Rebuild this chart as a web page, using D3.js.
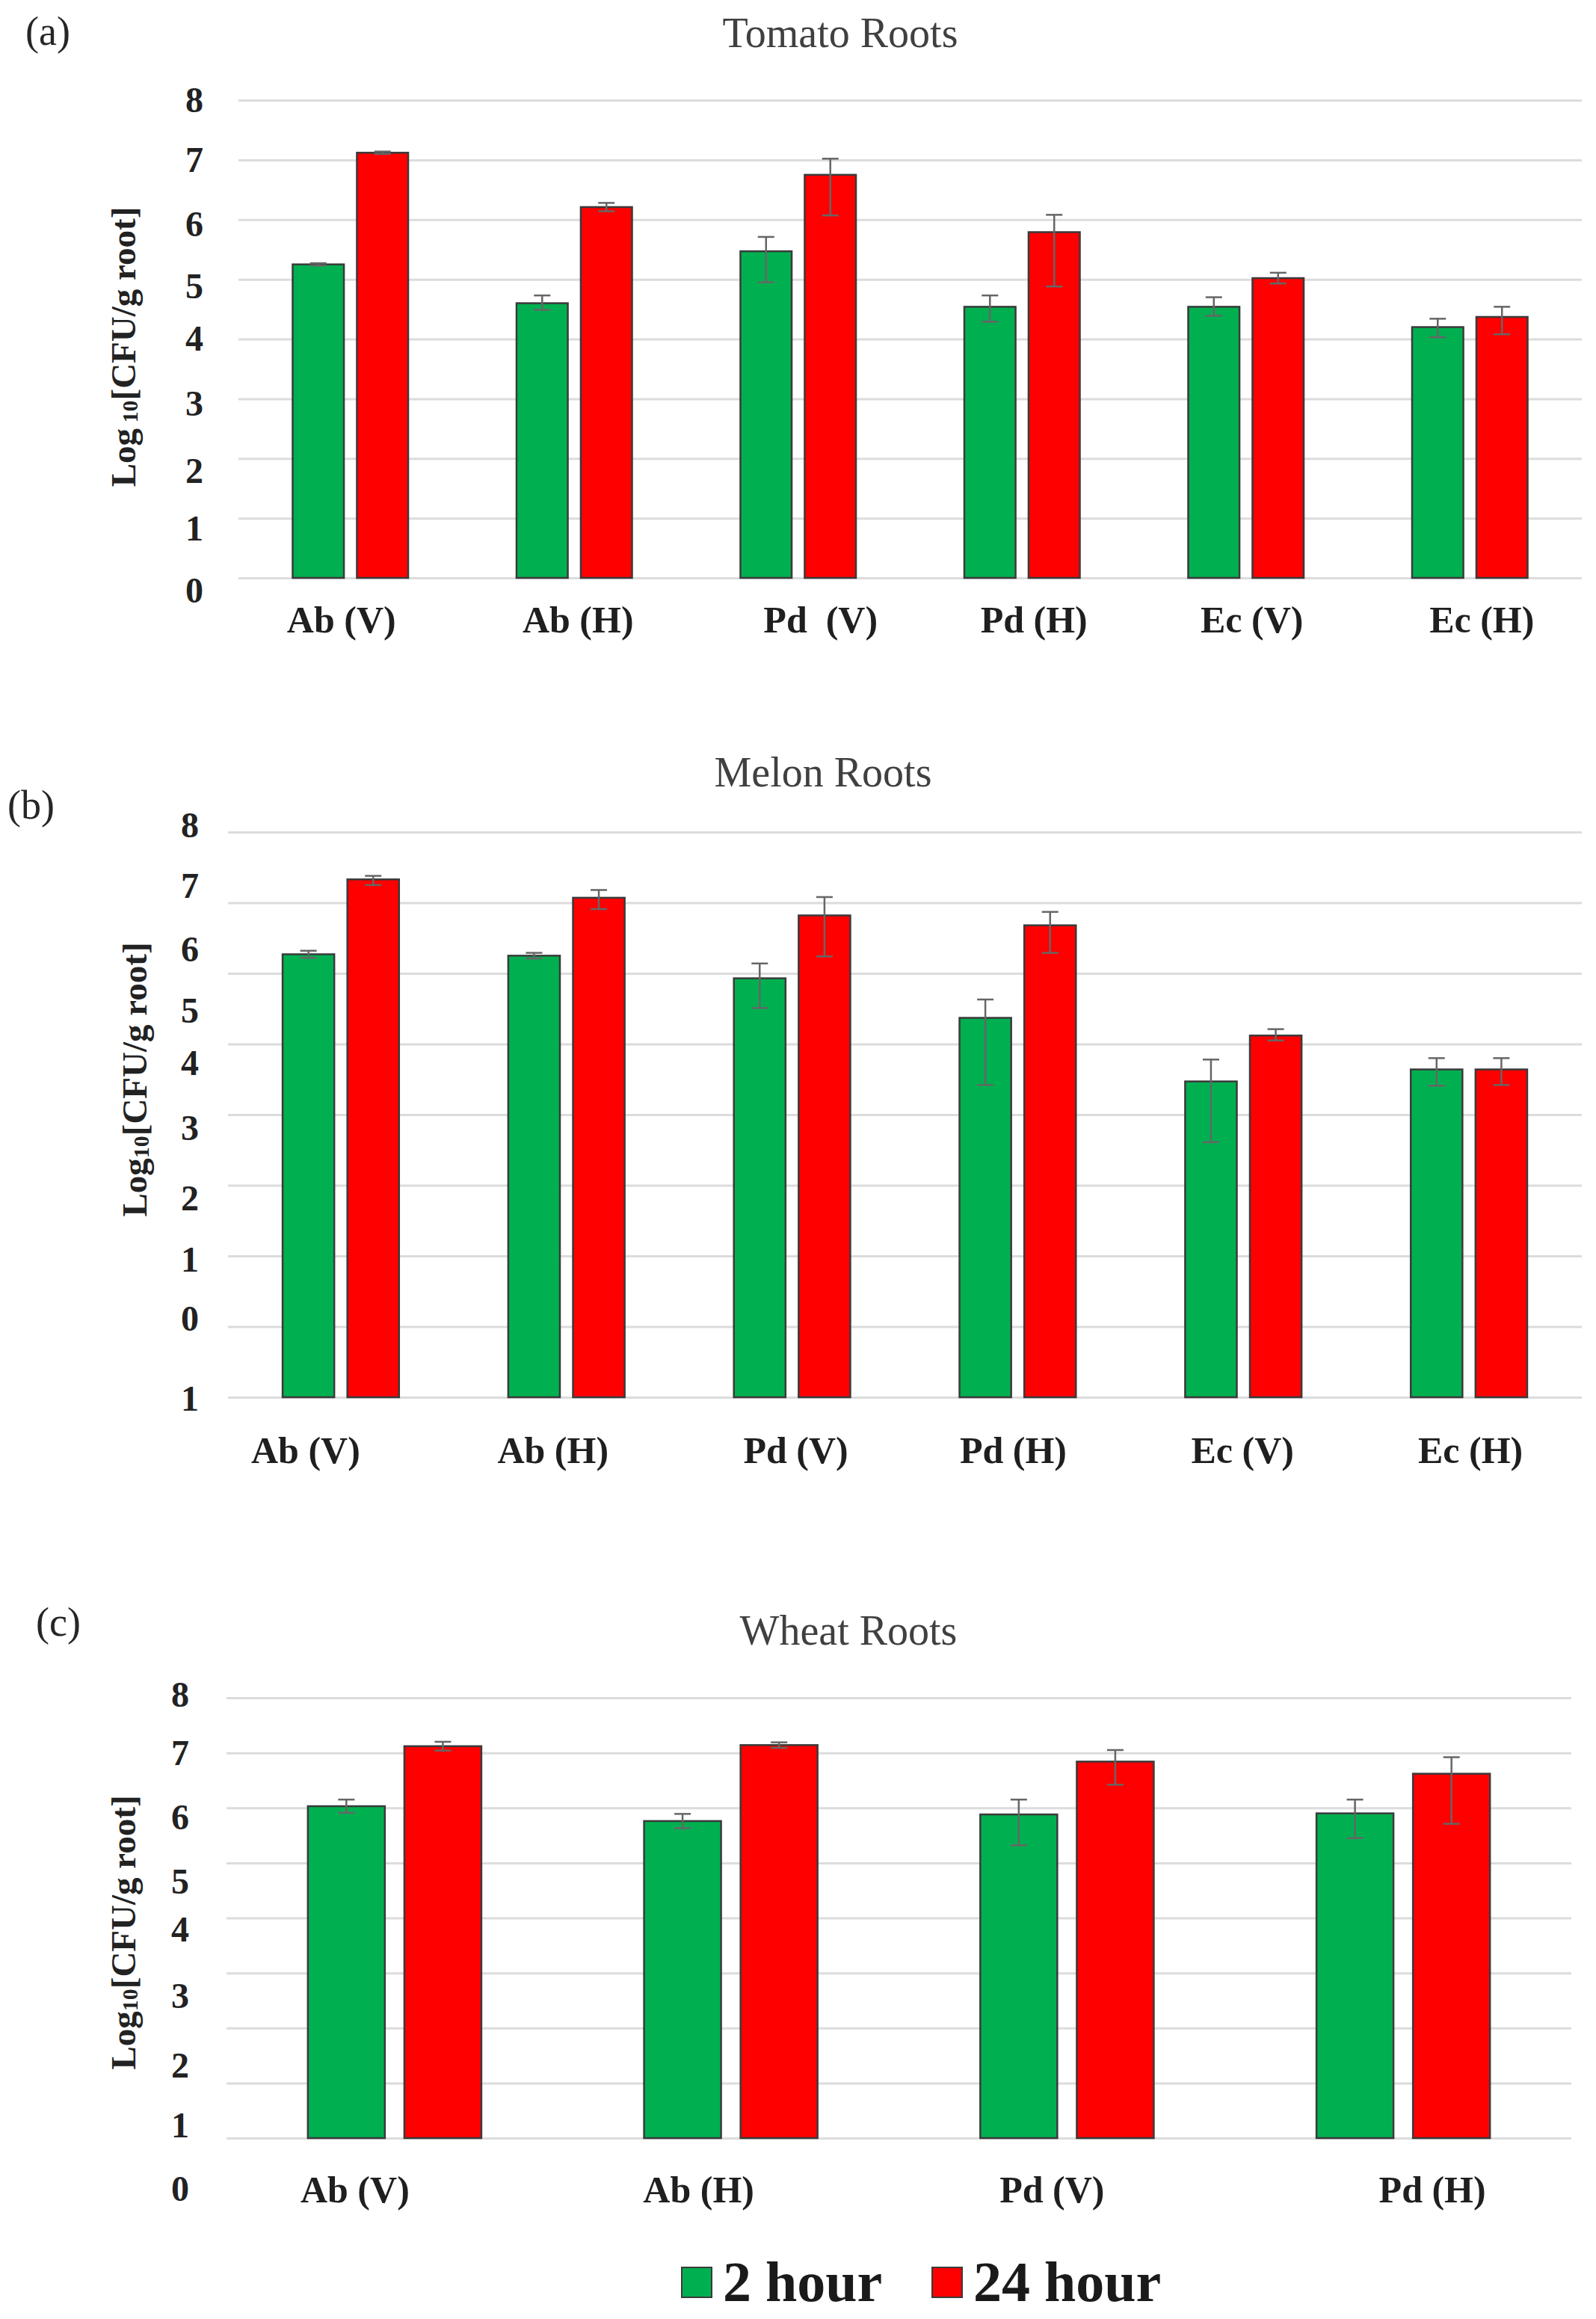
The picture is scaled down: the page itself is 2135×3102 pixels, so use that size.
<!DOCTYPE html>
<html>
<head>
<meta charset="utf-8">
<script src="https://cdn.jsdelivr.net/npm/d3@7"></script>
<style>
  body { margin: 0; background: #fff; }
  svg { display: block; font-family: 'Liberation Serif', 'Times New Roman', serif; }
</style>
</head>
<body>
<svg id="canvas" width="2135" height="3102"></svg>
<script>
// series
let series = ['2 hour', '24 hour'];
let seriesColors = ['#00b050', '#ff0000'];

// (a) tomato
let tomatoCategories = ['Ab (V)', 'Ab (H)', 'Pd\u00a0\u00a0(V)', 'Pd (H)', 'Ec (V)', 'Ec (H)'];
let tomato2h = [5.25, 4.60, 5.47, 4.54, 4.54, 4.20];
let tomato24h = [7.12, 6.21, 6.75, 5.79, 5.02, 4.37];
// [up, down]
let tomato2hErr = [[0.02, 0.02], [0.13, 0.11], [0.24, 0.52], [0.19, 0.25], [0.16, 0.15], [0.14, 0.17]];
let tomato24hErr = [[0.02, 0.02], [0.07, 0.07], [0.27, 0.68], [0.29, 0.91], [0.09, 0.09], [0.17, 0.29]];
let tomatoTickValues = [8, 7.0, 5.92, 4.88, 4.0, 2.92, 1.79, 0.83, -0.22];
let tomatoTickLabels = ['8', '7', '6', '5', '4', '3', '2', '1', '0'];

// (b) melon
let melonCategories = ['Ab (V)', 'Ab (H)', 'Pd (V)', 'Pd (H)', 'Ec (V)', 'Ec (H)'];
let melon2h = [6.27, 6.25, 5.93, 5.37, 4.47, 4.64];
let melon24h = [7.33, 7.07, 6.82, 6.68, 5.12, 4.64];
let melon2hErr = [[0.05, 0.05], [0.04, 0.04], [0.21, 0.42], [0.26, 0.95], [0.31, 0.86], [0.16, 0.23]];
let melon24hErr = [[0.05, 0.08], [0.11, 0.16], [0.26, 0.58], [0.19, 0.39], [0.09, 0.07], [0.16, 0.22]];
let melonTickValues = [8.09, 7.24, 6.34, 5.47, 4.73, 3.81, 2.81, 1.95, 1.11, -0.02];
let melonTickLabels = ['8', '7', '6', '5', '4', '3', '2', '1', '0', '1'];

// (c) wheat
let wheatCategories = ['Ab (V)', 'Ab (H)', 'Pd (V)', 'Pd (H)'];
let wheat2h = [6.03, 5.76, 5.88, 5.90];
let wheat24h = [7.12, 7.14, 6.84, 6.62];
let wheat2hErr = [[0.12, 0.12], [0.13, 0.13], [0.27, 0.56], [0.25, 0.45]];
let wheat24hErr = [[0.08, 0.08], [0.05, 0.05], [0.21, 0.42], [0.30, 0.91]];
let wheatTickValues = [8.05, 6.99, 5.82, 4.66, 3.79, 2.58, 1.32, 0.23, -0.92];
let wheatTickLabels = ['8', '7', '6', '5', '4', '3', '2', '1', '0'];

let gridValues = [0, 1, 2, 3, 4, 5, 6, 7, 8];

let canvas = d3.select('#canvas');

// layout of the three pasted panels
let panels = [
  {
    letter: '(a)', title: 'Tomato Roots', sub: '\u00a010',
    categories: tomatoCategories, values: [tomato2h, tomato24h], errs: [tomato2hErr, tomato24hErr],
    tickValues: tomatoTickValues, tickLabels: tomatoTickLabels,
    x0: 319, x1: 2116, yTop: 134, yBase: 773,
    titleX: 1124, titleY: 63, letterX: 34, letterY: 60,
    tickX: 272, yTitleX: 165, yTitleY: 464, catY: 846,
    catDx: [-12, 5, 30, 16, 8, 16]
  },
  {
    letter: '(b)', title: 'Melon Roots', sub: '10',
    categories: melonCategories, values: [melon2h, melon24h], errs: [melon2hErr, melon24hErr],
    tickValues: melonTickValues, tickLabels: melonTickLabels,
    x0: 305, x1: 2116, yTop: 1113, yBase: 1869,
    titleX: 1101, titleY: 1052, letterX: 10, letterY: 1095,
    tickX: 266, yTitleX: 180, yTitleY: 1444, catY: 1957,
    catDx: [-47, -18, 5, -6, -1, 2]
  },
  {
    letter: '(c)', title: 'Wheat Roots', sub: '10',
    categories: wheatCategories, values: [wheat2h, wheat24h], errs: [wheat2hErr, wheat24hErr],
    tickValues: wheatTickValues, tickLabels: wheatTickLabels,
    x0: 303, x1: 2102, yTop: 2271, yBase: 2860,
    titleX: 1135, titleY: 2200, letterX: 48, letterY: 2188,
    tickX: 253, yTitleX: 165, yTitleY: 2585, catY: 2946,
    catDx: [-53, -43, -20, 39]
  }
];

let drawPanel = (p) => {
  let g = canvas.append('g');

  let x = d3.scaleBand().domain(p.categories).range([p.x0, p.x1]).padding(0);
  let y = d3.scaleLinear().domain([0, 8]).range([p.yBase, p.yTop]);

  // gridlines
  g.append('g')
    .attr('transform', 'translate(' + p.x0 + ',0)')
    .call(d3.axisLeft(y).tickValues(gridValues).tickSize(-(p.x1 - p.x0)).tickFormat(''))
    .call((a) => a.select('.domain').remove())
    .selectAll('line')
    .attr('stroke', '#dcdcdc')
    .attr('stroke-width', 3);

  // tick labels (as placed in the figure)
  let tickAxis = g.append('g')
    .attr('transform', 'translate(' + p.tickX + ',0)')
    .call(d3.axisLeft(y).tickValues(p.tickValues).tickSize(0).tickPadding(0)
      .tickFormat((d, i) => p.tickLabels[i]));
  tickAxis.select('.domain').remove();
  tickAxis.selectAll('text')
    .attr('font-family', "'Liberation Serif', serif")
    .attr('font-size', 48)
    .attr('font-weight', 'bold')
    .attr('fill', '#222');

  let bw = x.bandwidth();
  let barW = bw * 0.229;
  let gap = bw * 0.058;

  series.forEach((s, si) => {
    let data = p.categories.map((c, i) => ({ cat: c, v: p.values[si][i], up: p.errs[si][i][0], dn: p.errs[si][i][1] }));
    let bx = (d) => x(d.cat) + bw / 2 + (si === 0 ? -gap / 2 - barW : gap / 2);

    g.selectAll('.bar' + si)
      .data(data)
      .enter()
      .append('rect')
      .attr('x', bx)
      .attr('y', (d) => y(d.v))
      .attr('width', barW)
      .attr('height', (d) => y(0) - y(d.v))
      .attr('fill', seriesColors[si])
      .attr('stroke', '#3a3a3a')
      .attr('stroke-width', 2.5);

    let eb = g.selectAll('.err' + si)
      .data(data)
      .enter()
      .append('g')
      .attr('stroke', '#666')
      .attr('stroke-width', 2.5);
    let cx = (d) => bx(d) + barW / 2;
    eb.append('line')
      .attr('x1', cx).attr('x2', cx)
      .attr('y1', (d) => y(d.v + d.up)).attr('y2', (d) => y(d.v - d.dn));
    eb.append('line')
      .attr('x1', (d) => cx(d) - 11).attr('x2', (d) => cx(d) + 11)
      .attr('y1', (d) => y(d.v + d.up)).attr('y2', (d) => y(d.v + d.up));
    eb.append('line')
      .attr('x1', (d) => cx(d) - 11).attr('x2', (d) => cx(d) + 11)
      .attr('y1', (d) => y(d.v - d.dn)).attr('y2', (d) => y(d.v - d.dn));
  });

  // category labels
  g.selectAll('.cat')
    .data(p.categories)
    .enter()
    .append('text')
    .attr('x', (c, i) => x(c) + bw / 2 + p.catDx[i])
    .attr('y', p.catY)
    .attr('text-anchor', 'middle')
    .attr('font-size', 50)
    .attr('font-weight', 'bold')
    .attr('fill', '#1f1f1f')
    .text((c) => c);

  // title and letter
  g.append('text')
    .attr('x', p.titleX).attr('y', p.titleY)
    .attr('text-anchor', 'middle')
    .attr('font-size', 56)
    .attr('fill', '#404040')
    .text(p.title);
  g.append('text')
    .attr('x', p.letterX).attr('y', p.letterY)
    .attr('font-size', 54)
    .attr('fill', '#262626')
    .text(p.letter);

  // y axis title
  let yt = g.append('text')
    .attr('transform', 'translate(' + p.yTitleX + ',' + p.yTitleY + ') rotate(-90)')
    .attr('text-anchor', 'middle')
    .attr('dominant-baseline', 'central')
    .attr('font-size', 47)
    .attr('font-weight', 'bold')
    .attr('fill', '#222');
  yt.append('tspan').text('Log');
  yt.append('tspan').attr('font-size', 30).attr('dy', 8).text(p.sub);
  yt.append('tspan').attr('dy', -8).text('[CFU/g root]');
};

panels.forEach(drawPanel);

// legend
let legend = canvas.append('g');
let legendX = [912, 1247];
series.forEach((s, i) => {
  legend.append('rect')
    .attr('x', legendX[i]).attr('y', 3033)
    .attr('width', 40).attr('height', 40)
    .attr('fill', seriesColors[i])
    .attr('stroke', '#3a3a3a')
    .attr('stroke-width', 2);
  legend.append('text')
    .attr('x', legendX[i] + 55).attr('y', 3078)
    .attr('font-size', 76)
    .attr('font-weight', 'bold')
    .attr('fill', '#1a1a1a')
    .text(s);
});
</script>
</body>
</html>
